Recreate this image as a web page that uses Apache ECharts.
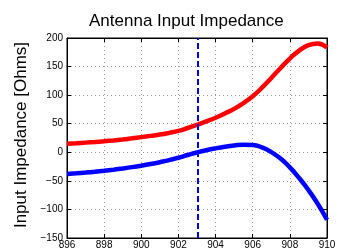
<!DOCTYPE html>
<html><head><meta charset="utf-8">
<script src="https://cdn.jsdelivr.net/npm/echarts@6/dist/echarts.min.js"></script>
<style>html,body{margin:0;padding:0;background:#fff}#c{width:350px;height:252px}</style>
</head><body><div id="c"></div>
<script>
const freq = [896,896.5,897,897.5,898,898.5,899,899.5,900,900.5,901,901.5,902,902.5,903,903.5,904,904.5,905,905.5,906,906.5,907,907.5,908,908.5,909,909.5,910];
const redVals = [15,15.9,16.9,18,19.3,20.8,22.5,24.4,26.5,28.7,31,34,37.5,42.5,48,54,60.5,68,76,86,98,113,130,147.5,164,178,187.5,190.5,183];
const blueVals = [-38,-36.8,-35.5,-34,-32.3,-30.4,-28.3,-26,-23.4,-20.5,-17.3,-13.8,-9.5,-4.8,-0.3,3.6,6.9,9.7,11.9,13.3,12.8,8.5,0.5,-11,-26.5,-45,-66,-90,-118];
const markerFreq = 903.05;
const xTicks = [896,898,900,902,904,906,908,910];
const yTicks = [-150,-100,-50,0,50,100,150,200];
const fmt = v => String(v).replace('-', '\u2212');
const font = 'Liberation Sans, Arial, Helvetica, sans-serif';
const chart = echarts.init(document.getElementById('c'));
const gridLine = {show:true, lineStyle:{color:'#999', type:[1,3], width:1}};
const axisLine = {show:true, onZero:false, lineStyle:{color:'#000'}};
const tick = {show:true, inside:true, length:4, lineStyle:{color:'#000'}};
chart.setOption({
  animation:false,
  title:{text:'Antenna Input Impedance', left:84, top:8,
    textStyle:{fontFamily:font, fontSize:17, fontWeight:'normal', color:'#000'}},
  grid:{left:67, right:23, top:38, bottom:14, show:true, borderColor:'#000', borderWidth:1, containLabel:false},
  xAxis:[{type:'value', min:xTicks[0], max:xTicks[xTicks.length-1], interval:2,
    axisLine:axisLine, axisTick:tick,
    axisLabel:{fontFamily:font, fontSize:10, color:'#000', margin:2, formatter:fmt},
    splitLine:gridLine},
    {type:'value', position:'top', min:896, max:910, interval:2,
    axisLine:axisLine, axisTick:tick, axisLabel:{show:false}, splitLine:{show:false}}],
  yAxis:[{type:'value', min:yTicks[0], max:yTicks[yTicks.length-1], interval:50,
    name:'Input Impedance [Ohms]', nameLocation:'middle', nameGap:33,
    nameTextStyle:{fontFamily:font, fontSize:17, color:'#000', padding:[0,0,0,6]},
    axisLine:axisLine, axisTick:tick,
    axisLabel:{fontFamily:font, fontSize:10, color:'#000', margin:4, formatter:fmt},
    splitLine:gridLine},
    {type:'value', position:'right', min:-150, max:200, interval:50,
    axisLine:axisLine, axisTick:tick, axisLabel:{show:false}, splitLine:{show:false}}],
  series:[
    {type:'line', data:freq.map((f,i)=>[f,redVals[i]]), smooth:0.5, showSymbol:false,
     lineStyle:{color:'#ff0000', width:4.5}, clip:true},
    {type:'line', data:freq.map((f,i)=>[f,blueVals[i]]), smooth:0.5, showSymbol:false,
     lineStyle:{color:'#0000ff', width:4.5}, clip:true,
     markLine:{symbol:['none','none'], silent:true, label:{show:false},
       lineStyle:{color:'#0000ff', type:[6,3], width:2},
       data:[{xAxis:markerFreq}]}}
  ]
});
</script></body></html>
